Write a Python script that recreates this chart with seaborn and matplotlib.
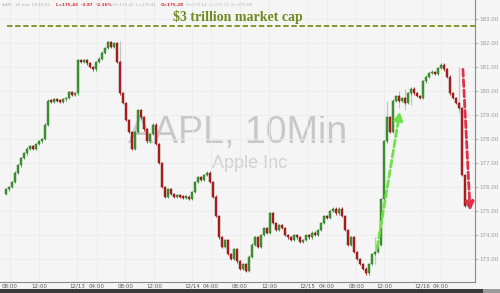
import matplotlib
matplotlib.use("Agg")
import matplotlib.pyplot as plt
import seaborn as sns
import numpy as np
import pandas as pd
from matplotlib.patches import Rectangle

# ---- data (10-min style candles) ----
closes = [175.9, 176.0, 176.2, 176.6, 176.9, 177.2, 177.4, 177.6, 177.7, 177.6,
          177.8, 177.9, 178.0, 178.6, 179.6, 179.55, 179.65, 179.6, 179.55, 179.65,
          179.7, 179.95, 179.85, 179.9, 181.3, 181.2, 181.3, 181.15, 181.0, 180.9,
          181.2, 181.35, 181.6, 181.8, 182.05, 181.85, 182.0, 181.2, 179.9, 179.5,
          178.8, 178.3, 177.6, 178.3, 179.2, 178.9, 178.4, 177.9, 178.2, 178.6,
          177.8, 177.0, 176.0, 175.6, 175.9, 175.7, 175.6, 175.65, 175.6, 175.55,
          175.6, 175.5, 175.8, 176.2, 176.4, 176.3, 176.5, 176.6, 176.2, 175.6,
          174.8, 173.9, 173.5, 173.8, 173.2, 173.0, 173.4, 172.9, 172.6, 172.8,
          172.5, 173.1, 173.6, 173.9, 173.5, 174.0, 174.3, 174.1, 174.9, 174.5,
          174.2, 174.4, 174.3, 174.0, 173.9, 173.8, 174.0, 173.9, 173.7, 173.8,
          174.0, 173.9, 174.1, 174.0, 174.2, 174.5, 174.8, 174.7, 175.0, 175.1,
          174.9, 175.1, 174.8, 174.2, 173.6, 173.9, 173.3, 173.0, 172.8, 172.6,
          172.4, 172.8, 173.2, 173.3, 173.6, 175.5, 177.9, 178.9, 178.3, 179.6,
          179.8, 179.6, 179.7, 179.5, 179.9, 180.1, 179.9, 179.8, 179.7, 180.4,
          180.6, 180.75, 180.8, 180.7, 180.95, 181.1, 180.9, 180.6, 179.9, 179.7,
          179.5, 179.3, 176.5, 175.2, 175.45]
first_open = 175.7

# grey extended-hours spikes: (candle index, low, high)
spike_idx = [38, 127, 131, 133, 135, 151, 123]
spike_low = [179.9, 178.4, 179.3, 179.2, 179.4, 179.1, 172.8]
spike_high = [182.1, 179.6, 180.0, 180.1, 180.0, 181.0, 173.9]

ytick_vals = [173, 174, 175, 176, 177, 178, 179, 180, 181, 182, 183]
xtick_labels = ["08:00", "12:00", "12/13", "04:00", "08:00", "12:00", "12/14", "04:00",
                "08:00", "12:00", "12/15", "04:00", "08:00", "12:00", "12/16", "04:00"]
xtick_pos = [1.2, 11, 23.7, 30.3, 39.7, 49.3, 62, 68.3, 78, 87.7, 100.3, 107, 116.7, 126, 138.7, 145]
cap_level = 182.7

opens = [first_open] + closes[:-1]
df = pd.DataFrame({"idx": np.arange(len(closes)), "open": opens, "close": closes})
df["up"] = df["close"] >= df["open"]

sns.set_style("white")
plt.rcParams['font.family'] = ['DejaVu Sans']

bg = "#f5f5f5"
fig = plt.figure(figsize=(5, 2.93), dpi=100, facecolor=bg)
ax = fig.add_axes([0, 0.0375, 0.95, 0.9625])
ax.set_facecolor(bg)

# watermark
ax.text(0.5, 0.53, "AAPL, 10Min", transform=ax.transAxes, ha="center", va="center",
        fontsize=27, color="#c8c8c8", zorder=0, family=["Liberation Sans", "DejaVu Sans"])
ax.text(0.525, 0.42, "Apple Inc", transform=ax.transAxes, ha="center", va="center",
        fontsize=13, color="#d0d0d0", zorder=0, family=["Liberation Sans", "DejaVu Sans"])

# grid
for xp in xtick_pos:
    ax.axvline(xp, color="#ebebeb", lw=0.6, zorder=0.5)
for yv in ytick_vals:
    ax.axhline(yv, color="#ebebeb", lw=0.6, zorder=0.5)

# spikes
ax.vlines(spike_idx, spike_low, spike_high, color="#c4c4c4", lw=0.9, zorder=1)

# candles
up_c, dn_c = "#3c9a32", "#b8201f"
colors = [up_c if u else dn_c for u in df["up"]]
bottoms = np.minimum(df["open"], df["close"])
heights = np.maximum(np.abs(df["close"] - df["open"]), 0.06)
ax.vlines(df["idx"], bottoms - 0.05, bottoms + heights + 0.05, color=colors, lw=0.6, zorder=2)
ax.bar(df["idx"], heights, bottom=bottoms, width=0.7, color=colors,
       edgecolor=["#2a6e22" if u else "#6e1010" for u in df["up"]], linewidth=0.3, zorder=3)

# $3T line
ax.axhline(cap_level, xmin=0.015, xmax=1.0, color="#7f8f1f", lw=1.3, ls=(0, (3, 1.5)), zorder=4)
ax.text(0.5, 0.94, "$3 trillion market cap", transform=ax.transAxes, ha="center",
        va="center", fontsize=10, color="#6f8a1f", fontweight="bold",
        family=["Liberation Serif", "DejaVu Serif"], zorder=5)

# arrows
ax.annotate("", xy=(131.3, 179.15), xytext=(123.7, 173.45),
            arrowprops=dict(arrowstyle="-|>,head_length=0.5,head_width=0.25", color="#6fe04a",
                            lw=2.0, ls=(0, (2.5, 1.2)), shrinkA=0, shrinkB=0), zorder=6)
ax.annotate("", xy=(154.7, 175.0), xytext=(152.3, 180.9),
            arrowprops=dict(arrowstyle="-|>,head_length=0.5,head_width=0.25", color="#e0304a",
                            lw=2.0, ls=(0, (2.5, 1.2)), shrinkA=0, shrinkB=0), zorder=6)

ax.set_xlim(-2, 156.33)
ax.set_ylim(172.04, 183.79)

ax.yaxis.tick_right()
ax.set_yticks(ytick_vals)
ax.set_yticklabels([f"{v:.2f}" for v in ytick_vals])
ax.set_xticks(xtick_pos)
ax.set_xticklabels(xtick_labels)
ax.tick_params(axis="y", labelsize=4, colors="#9a9a9a", length=2, width=0.5, pad=1)
ax.tick_params(axis="x", labelsize=4, colors="#555555", length=0, pad=4.3)
for lbl in ax.get_xticklabels():
    lbl.set_verticalalignment("baseline")

for s in ["top", "left"]:
    ax.spines[s].set_visible(False)
for s in ["right", "bottom"]:
    ax.spines[s].set_color("#8a8a8a")
    ax.spines[s].set_linewidth(0.8)

# header line
hdr = [(0.004, "AAPL  10 min  06/16/21", "#b0b0b0"),
       (0.112, "L=175.43  -3.87  -2.16%", "#d03030"),
       (0.226, "H=175.42  L=175.41", "#b0b0b0"),
       (0.322, "O=175.28", "#d03030"),
       (0.372, "H=175.14  L=175.12  H=175.08", "#b8b8b8")]
for xf, t, c in hdr:
    fig.text(xf, 0.983, t, fontsize=3.0, color=c, ha="left", va="center",
             fontweight="bold" if c == "#d03030" else "normal")

# bottom dark strip
fig.patches.append(Rectangle((0, 0), 0.965, 0.012, transform=fig.transFigure,
                             facecolor="#3a3a3a", edgecolor="none"))
fig.patches.append(Rectangle((0.965, 0), 0.035, 0.012, transform=fig.transFigure,
                             facecolor="#9a9a9a", edgecolor="none"))

fig.savefig("out.png", dpi=100, facecolor=bg)
